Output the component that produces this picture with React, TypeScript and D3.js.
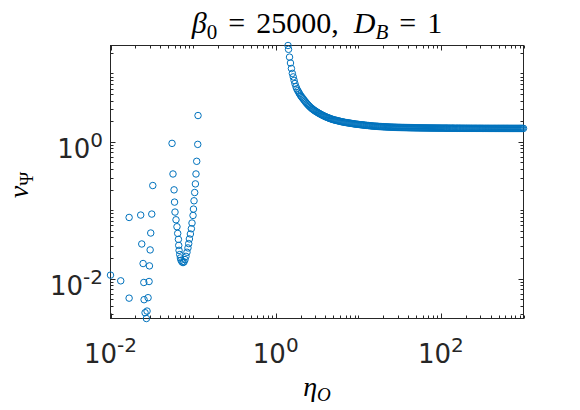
import React, {useEffect, useRef} from 'react';
import * as d3 from 'd3';

const WIDTH = 580;
const HEIGHT = 410;
// plot box edges (half pixels keep the 1px frame crisp)
const BOX = {left: 110.5, right: 523.5, top: 45.5, bottom: 318.5};

const MARKER_COLOR = '#0072BD';
const AXIS_COLOR = '#262626';

// scattered low-eta solutions
const etaScatter = [0.0100, 0.0133, 0.0168, 0.0168, 0.0232, 0.0239, 0.0248, 0.0253, 0.0255, 0.0262,
    0.0272, 0.0277, 0.0285, 0.0293, 0.0296, 0.0302, 0.0307, 0.0316, 0.0325];
const vScatter = [0.0112, 0.00925, 0.00516, 0.0782, 0.0847, 0.0320, 0.01655, 0.00875, 0.0049, 0.00316,
    0.0026, 0.00334, 0.00524, 0.00904, 0.0153, 0.0262, 0.0463, 0.0876, 0.229];

// the narrow dip around eta ~ 0.075
const etaDip = [0.0556, 0.0571, 0.0588, 0.0596, 0.0604, 0.0621, 0.0638, 0.0651, 0.0664, 0.0670,
    0.0676, 0.0689, 0.0702, 0.0714, 0.0734, 0.0755, 0.0776, 0.0798, 0.0820, 0.0843,
    0.0867, 0.0885, 0.0902, 0.0927, 0.0953, 0.0970, 0.0998, 0.1010, 0.1026, 0.1045,
    0.1066, 0.1084, 0.1106, 0.1138, 0.1147];
const vDip = [0.948, 0.338, 0.198, 0.131, 0.0937, 0.0723, 0.0572, 0.0457, 0.0374, 0.0305,
    0.0258, 0.0224, 0.0200, 0.0185, 0.0175, 0.0171, 0.0175, 0.0189, 0.0211, 0.0242,
    0.0280, 0.0324, 0.0379, 0.0448, 0.0535, 0.0648, 0.0836, 0.1036, 0.137, 0.181,
    0.242, 0.338, 0.518, 0.916, 2.42];

// steep descent just above eta = 1
const etaSteep = [1.41, 1.43, 1.47, 1.51, 1.55, 1.59, 1.63, 1.67, 1.71, 1.76,
    1.80, 1.85, 1.90, 1.94, 1.99, 2.04, 2.09, 2.15, 2.20, 2.26,
    2.32, 2.38, 2.44, 2.50, 2.56, 2.63, 2.70, 2.77, 2.84, 2.91,
    2.98, 3.06, 3.14, 3.22, 3.30, 3.38, 3.47, 3.56, 3.65, 3.74,
    3.84, 3.94, 4.04, 4.14, 4.25, 4.36, 4.47, 4.58, 4.70];
const vSteep = [25.6, 22.5, 17.3, 14.2, 11.8, 10.0, 8.9, 7.9, 7.1, 6.4,
    5.95, 5.6, 5.3, 5.05, 4.8, 4.6, 4.42, 4.25, 4.08, 3.92,
    3.77, 3.63, 3.51, 3.40, 3.30, 3.20, 3.11, 3.03, 2.96, 2.90,
    2.84, 2.78, 2.73, 2.68, 2.63, 2.59, 2.54, 2.50, 2.46, 2.42,
    2.39, 2.35, 2.32, 2.29, 2.26, 2.23, 2.21, 2.18, 2.16];

// knee of the curve
const etaKnee = [4.83, 4.97, 5.11, 5.25, 5.40, 5.55, 5.70, 5.86, 6.03, 6.20,
    6.37, 6.55, 6.73, 6.92, 7.11, 7.31, 7.52, 7.73, 7.94, 8.17,
    8.39, 8.63, 8.87, 9.12, 9.37, 9.64, 9.91, 10.2, 10.5, 10.8,
    11.1, 11.4, 11.7, 12.0, 12.4, 12.7, 13.1, 13.4, 13.8, 14.2,
    14.6, 15.0, 15.4, 15.9, 16.3, 16.8, 17.2, 17.7, 18.2, 18.7,
    19.2, 19.8, 20.3, 20.9, 21.5, 22.1, 22.7, 23.3, 24.0];
const vKnee = [2.13, 2.11, 2.09, 2.07, 2.06, 2.04, 2.02, 2.01, 1.99, 1.97,
    1.96, 1.95, 1.93, 1.92, 1.91, 1.90, 1.89, 1.88, 1.87, 1.86,
    1.85, 1.84, 1.83, 1.82, 1.81, 1.805, 1.80, 1.79, 1.78, 1.775,
    1.77, 1.76, 1.755, 1.75, 1.74, 1.735, 1.73, 1.725, 1.72, 1.71,
    1.705, 1.70, 1.695, 1.69, 1.69, 1.685, 1.68, 1.675, 1.67, 1.67,
    1.665, 1.66, 1.66, 1.655, 1.65, 1.65, 1.645, 1.645, 1.64];

// plateau out to eta = 1000
const etaFlat = [24.7, 25.4, 26.1, 26.8, 27.6, 28.3, 29.1, 29.9, 30.8, 31.6,
    32.5, 33.4, 34.4, 35.3, 36.3, 37.3, 38.4, 39.5, 40.6, 41.7,
    42.9, 44.1, 45.3, 46.6, 47.9, 49.2, 50.6, 52.0, 53.5, 55.0,
    56.5, 58.1, 59.7, 61.4, 63.1, 64.9, 66.7, 68.6, 70.5, 72.5,
    74.5, 76.6, 78.7, 80.9, 83.2, 85.5, 87.9, 90.4, 92.9, 95.5,
    98.2, 101, 104, 107, 110, 113, 116, 119, 122, 126,
    129, 133, 137, 140, 144, 148, 153, 157, 161, 166,
    170, 175, 180, 185, 190, 195, 201, 206, 212, 218,
    224, 231, 237, 244, 251, 258, 265, 272, 280, 288,
    296, 304, 313, 321, 330, 340, 349, 359, 369, 379,
    390, 401, 412, 424, 436, 448, 460, 473, 487, 500,
    514, 529, 543, 559, 574, 590, 607, 624, 641, 659,
    678, 697, 716, 736, 757, 778, 800, 822, 845, 869,
    893, 918, 944, 971, 1000];
const vFlat = [1.638, 1.636, 1.634, 1.632, 1.630, 1.628, 1.626, 1.625, 1.623, 1.622,
    1.620, 1.619, 1.617, 1.616, 1.614, 1.613, 1.612, 1.610, 1.609, 1.608,
    1.607, 1.606, 1.605, 1.604, 1.603, 1.602, 1.601, 1.600, 1.599, 1.598,
    1.597, 1.596, 1.596, 1.595, 1.594, 1.593, 1.593, 1.592, 1.591, 1.591,
    1.590, 1.589, 1.589, 1.588, 1.588, 1.587, 1.587, 1.586, 1.586, 1.585,
    1.585, 1.584, 1.584, 1.583, 1.583, 1.582, 1.582, 1.582, 1.581, 1.581,
    1.580, 1.580, 1.580, 1.579, 1.579, 1.579, 1.578, 1.578, 1.578, 1.577,
    1.577, 1.577, 1.577, 1.576, 1.576, 1.576, 1.576, 1.575, 1.575, 1.575,
    1.575, 1.575, 1.574, 1.574, 1.574, 1.574, 1.574, 1.573, 1.573, 1.573,
    1.573, 1.573, 1.573, 1.572, 1.572, 1.572, 1.572, 1.572, 1.572, 1.572,
    1.571, 1.571, 1.571, 1.571, 1.571, 1.571, 1.571, 1.571, 1.571, 1.571,
    1.571, 1.571, 1.571, 1.571, 1.571, 1.571, 1.571, 1.571, 1.571, 1.571,
    1.570, 1.570, 1.570, 1.570, 1.570, 1.570, 1.570, 1.570, 1.570, 1.570,
    1.570, 1.570, 1.570, 1.570, 1.570];

const xLabelExponents = [-2, 0, 2];
const yLabelExponents = [-2, 0];

type Pt = [number, number];

const App: React.FC = () => {
    const svgRef = useRef<SVGSVGElement | null>(null);

    useEffect(() => {
        if (svgRef.current) {
            drawChart();
        }
    }, []);

    const drawChart = () => {
        const svg = d3.select(svgRef.current);
        svg.selectAll('*').remove();

        const points: Pt[] = [
            ...d3.zip(etaScatter, vScatter),
            ...d3.zip(etaDip, vDip),
            ...d3.zip(etaSteep, vSteep),
            ...d3.zip(etaKnee, vKnee),
            ...d3.zip(etaFlat, vFlat),
        ] as Pt[];

        // tight limits, like "axis tight"
        const xDomain = d3.extent(points, (d) => d[0]) as [number, number];
        const yDomain = d3.extent(points, (d) => d[1]) as [number, number];

        const x = d3.scaleLog().domain(xDomain).range([BOX.left, BOX.right]);
        const y = d3.scaleLog().domain(yDomain).range([BOX.bottom, BOX.top]);

        svg.append('rect')
            .attr('width', WIDTH)
            .attr('height', HEIGHT)
            .attr('fill', 'white');

        // log ticks: decades that carry a label are major, everything else minor
        const logTicks = (domain: [number, number], labeled: number[]) => {
            const out: { v: number; major: boolean }[] = [];
            const lo = Math.floor(Math.log10(domain[0]));
            const hi = Math.ceil(Math.log10(domain[1]));
            for (let e = lo; e <= hi; e++) {
                for (let k = 1; k <= 9; k++) {
                    const v = k * Math.pow(10, e);
                    if (v >= domain[0] * 0.9999 && v <= domain[1] * 1.0001) {
                        out.push({v, major: k === 1 && labeled.includes(e)});
                    }
                }
            }
            return out;
        };

        const MAJOR = 5;
        const MINOR = 3;
        const ticksG = svg.append('g')
            .attr('stroke', AXIS_COLOR)
            .attr('stroke-width', 1);

        logTicks(xDomain, xLabelExponents).forEach((t) => {
            const px = Math.round(x(t.v)) + 0.5;
            const len = t.major ? MAJOR : MINOR;
            ticksG.append('line').attr('x1', px).attr('x2', px)
                .attr('y1', BOX.bottom).attr('y2', BOX.bottom - len);
            ticksG.append('line').attr('x1', px).attr('x2', px)
                .attr('y1', BOX.top).attr('y2', BOX.top + len);
        });
        logTicks(yDomain, yLabelExponents).forEach((t) => {
            const py = Math.round(y(t.v)) + 0.5;
            const len = t.major ? MAJOR : MINOR;
            ticksG.append('line').attr('y1', py).attr('y2', py)
                .attr('x1', BOX.left).attr('x2', BOX.left + len);
            ticksG.append('line').attr('y1', py).attr('y2', py)
                .attr('x1', BOX.right).attr('x2', BOX.right - len);
        });

        // frame
        svg.append('rect')
            .attr('x', BOX.left)
            .attr('y', BOX.top)
            .attr('width', BOX.right - BOX.left)
            .attr('height', BOX.bottom - BOX.top)
            .attr('fill', 'none')
            .attr('stroke', AXIS_COLOR)
            .attr('stroke-width', 1);

        // markers
        svg.append('g')
            .selectAll('circle')
            .data(points)
            .enter()
            .append('circle')
            .attr('cx', (d) => x(d[0]))
            .attr('cy', (d) => y(d[1]))
            .attr('r', 3.25)
            .attr('fill', 'none')
            .attr('stroke', MARKER_COLOR)
            .attr('stroke-width', 1);

        // tick labels 10^n
        const powerLabel = (
            g: d3.Selection<SVGTextElement, unknown, null, undefined>,
            exp: number
        ) => {
            g.append('tspan').text('10');
            g.append('tspan')
                .attr('dy', -11)
                .style('font-size', '20px')
                .text(exp < 0 ? `-${-exp}` : `${exp}`);
        };

        xLabelExponents.forEach((e) => {
            const t = svg.append('text')
                .attr('x', x(Math.pow(10, e)))
                .attr('y', 363)
                .attr('text-anchor', 'middle')
                .style('font-family', 'DejaVu Sans, sans-serif')
                .style('font-size', '26px')
                .style('fill', AXIS_COLOR);
            powerLabel(t as any, e);
        });
        yLabelExponents.forEach((e) => {
            const t = svg.append('text')
                .attr('x', 103)
                .attr('y', y(Math.pow(10, e)) + 16.5)
                .attr('text-anchor', 'end')
                .style('font-family', 'DejaVu Sans, sans-serif')
                .style('font-size', '26px')
                .style('fill', AXIS_COLOR);
            powerLabel(t as any, e);
        });

        const serif = 'Liberation Serif, Times New Roman, serif';

        // title: beta_0 = 25000, D_B = 1
        const title = svg.append('text')
            .attr('x', (BOX.left + BOX.right) / 2)
            .attr('y', 32.5)
            .attr('text-anchor', 'middle')
            .style('font-family', serif)
            .style('font-size', '30px')
            .style('fill', '#000');
        title.append('tspan').style('font-style', 'italic').text('β');
        title.append('tspan').attr('dy', 6).style('font-size', '21px').text('0');
        title.append('tspan').attr('dy', -6).attr('dx', 11).text('=');
        title.append('tspan').attr('dx', 11).text('25000,');
        title.append('tspan').attr('dx', 15).style('font-style', 'italic').text('D');
        title.append('tspan').attr('dy', 6).style('font-style', 'italic')
            .style('font-size', '21px').text('B');
        title.append('tspan').attr('dy', -6).attr('dx', 11).text('=');
        title.append('tspan').attr('dx', 11).text('1');

        // x label: eta_O
        const xl = svg.append('text')
            .attr('x', (BOX.left + BOX.right) / 2)
            .attr('y', 396)
            .attr('text-anchor', 'middle')
            .style('font-family', serif)
            .style('font-size', '28px')
            .style('font-style', 'italic')
            .style('fill', '#000');
        xl.append('tspan').text('η');
        xl.append('tspan').attr('dy', 5).style('font-size', '19px').text('O');

        // y label: v_Psi
        const yl = svg.append('text')
            .attr('transform', `translate(28,${(BOX.top + BOX.bottom) / 2 + 3}) rotate(-90)`)
            .attr('text-anchor', 'middle')
            .style('font-family', serif)
            .style('font-size', '28px')
            .style('fill', '#000');
        yl.append('tspan').style('font-style', 'italic').text('v');
        yl.append('tspan').attr('dy', 5).style('font-size', '19px').text('Ψ');
    };

    return (
        <svg
            ref={svgRef}
            width={WIDTH}
            height={HEIGHT}
            style={{position: 'absolute', left: 0, top: 0, display: 'block'}}
        />
    );
};

export default App;
